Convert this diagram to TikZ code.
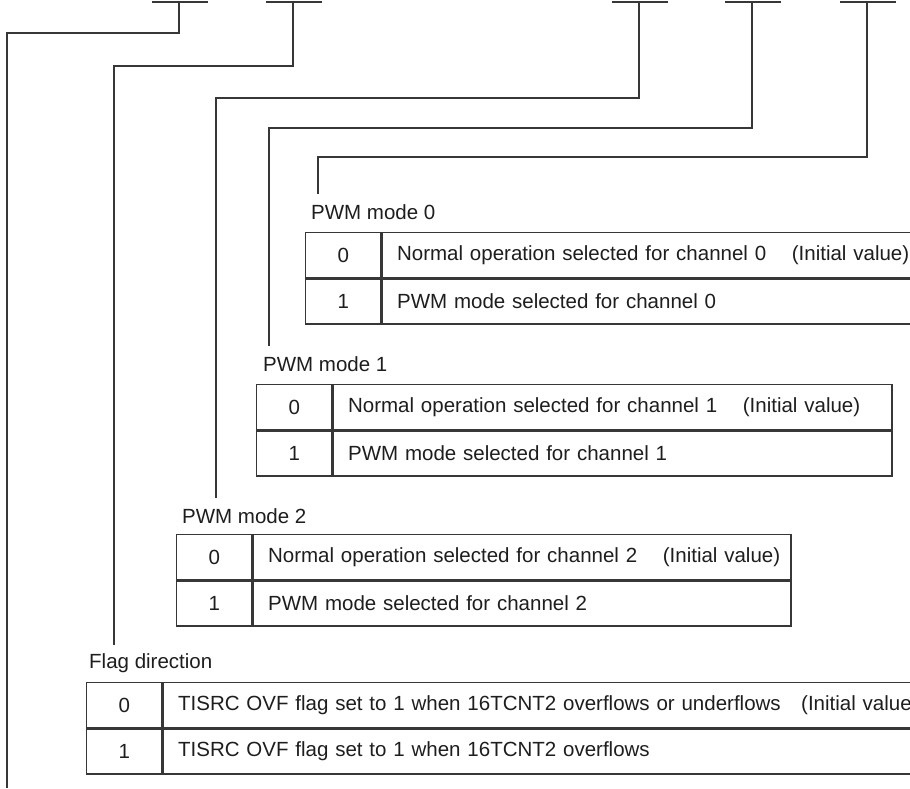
\documentclass[tikz,border=0pt]{standalone}
\usepackage{fontspec}
\setmainfont{Liberation Sans}
\usepackage{tikz}
\usetikzlibrary{positioning}
\definecolor{regline}{RGB}{55,55,55}
\definecolor{regtext}{RGB}{30,30,30}
\tikzset{
  wire/.style={draw=regline,line width=1.4pt},
  bitbar/.style={draw=regline,line width=1.8pt},
  valcell/.style={draw=regline,line width=1.4pt,minimum width=75pt,minimum height=45pt,
    inner sep=0pt,anchor=north west},
  desccell/.style={draw=regline,line width=1.4pt,minimum height=45pt,inner sep=0pt,
    text width=#1,align=left,anchor=north west,execute at begin node=\hspace*{15pt}},
  modelabel/.style={anchor=base west,inner sep=0pt}
}
\begin{document}
\begin{tikzpicture}[x=1pt,y=-1pt,text=regtext,font=\fontsize{20.5pt}{24pt}\selectfont]
  \fill[white] (0,0) rectangle (910,788);
  \clip (0,0) rectangle (910,788);
  % bit positions at the top
  \foreach \i/\sx in {1/179,2/293,3/639,4/752,5/867}
    \coordinate (b\i) at (\sx,2);
  \foreach \i in {1,...,5}
    \draw[bitbar] ([xshift=-27pt]b\i) -- ([xshift=29pt]b\i);
  % free ends above the labels
  \coordinate (e1) at (7,788);
  \coordinate (e2) at (114,645);
  \coordinate (e3) at (216,498);
  \coordinate (e4) at (269,346);
  \coordinate (e5) at (318,194);
  \foreach \i/\dy in {1/31,2/64,3/96,4/126,5/155}
    \draw[wire] (b\i) -- ++(0,\dy) -| (e\i);

  % PWM mode 0
  \node[modelabel] (lab0) at (311,219) {PWM mode 0};
  \node[valcell] (m0v0) at (305,232) {0};
  \node[valcell] (m0v1) at (m0v0.south west) {1};
  \node[desccell=620pt] (m0d0) at (m0v0.north east)
    {Normal operation selected for channel 0\hspace{1.25em}(Initial value)};
  \node[desccell=620pt] (m0d1) at (m0v1.north east) {PWM mode selected for channel 0};

  % PWM mode 1
  \node[modelabel] (lab1) at (263,371) {PWM mode 1};
  \node[valcell] (m1v0) at (256,384) {0};
  \node[valcell] (m1v1) at (m1v0.south west) {1};
  \node[desccell=559pt] (m1d0) at (m1v0.north east)
    {Normal operation selected for channel 1\hspace{1.25em}(Initial value)};
  \node[desccell=559pt] (m1d1) at (m1v1.north east) {PWM mode selected for channel 1};

  % PWM mode 2
  \node[modelabel] (lab2) at (182,523) {PWM mode 2};
  \node[valcell] (m2v0) at (176,534) {0};
  \node[valcell] (m2v1) at (m2v0.south west) {1};
  \node[desccell=538pt] (m2d0) at (m2v0.north east)
    {Normal operation selected for channel 2\hspace{1.25em}(Initial value)};
  \node[desccell=538pt] (m2d1) at (m2v1.north east) {PWM mode selected for channel 2};

  % flag direction
  \node[modelabel] (lab3) at (89,668) {Flag direction};
  \node[valcell] (fdv0) at (86,682) {0};
  \node[valcell] (fdv1) at (fdv0.south west) {1};
  \node[desccell=830pt] (fdd0) at (fdv0.north east)
    {TISRC OVF flag set to 1 when 16TCNT2 overflows or underflows\hspace{1em}(Initial value)};
  \node[desccell=830pt] (fdd1) at (fdv1.north east) {TISRC OVF flag set to 1 when 16TCNT2 overflows};
\end{tikzpicture}
\end{document}
